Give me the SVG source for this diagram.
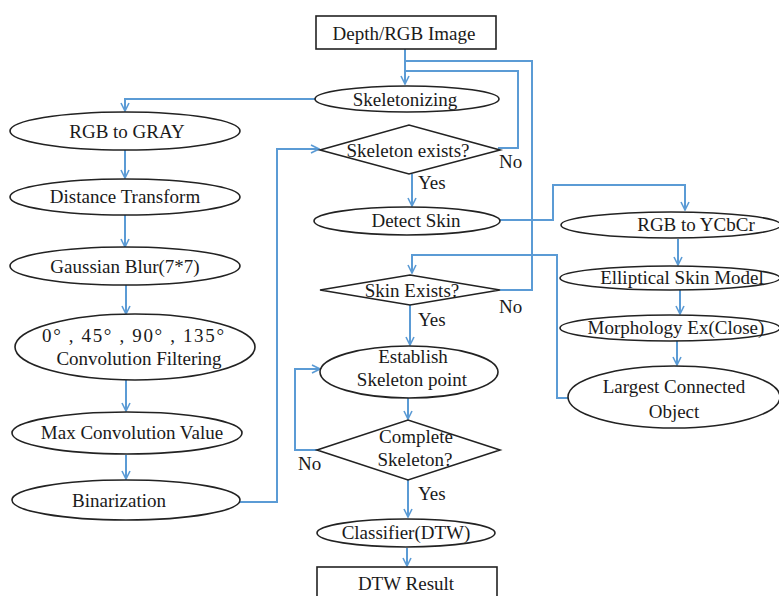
<svg xmlns="http://www.w3.org/2000/svg" width="779" height="596" viewBox="0 0 779 596">
<defs>
<style>
.n{fill:#fff;stroke:#222;stroke-width:1.6}
text{font-family:'Liberation Serif','DejaVu Serif',serif;font-size:19px;fill:#1a1a1a}
.t{text-anchor:middle}
.c{fill:none;stroke:#5b9bd5;stroke-width:2}
</style>
<marker id="a" viewBox="0 0 10 10" refX="9" refY="5" markerWidth="10" markerHeight="10" markerUnits="userSpaceOnUse" orient="auto">
<path d="M1,1 L9,5 L1,9" fill="none" stroke="#5b9bd5" stroke-width="1.6"/>
</marker>
</defs>
<rect width="779" height="596" fill="#fff"/>

<g id="connectors">
<path class="c" d="M405,49 V84" marker-end="url(#a)"/>
<path class="c" d="M405,61 H532 V290 H500"/>
<path class="c" d="M405,71 H518 V148 H498"/>
<path class="c" d="M315,99 H125 V111" marker-end="url(#a)"/>
<path class="c" d="M125,150 V178" marker-end="url(#a)"/>
<path class="c" d="M125,215 V247" marker-end="url(#a)"/>
<path class="c" d="M126,285 V314" marker-end="url(#a)"/>
<path class="c" d="M126,380 V411" marker-end="url(#a)"/>
<path class="c" d="M126,455 V479" marker-end="url(#a)"/>
<path class="c" d="M240,502 H277 V149 H319" marker-end="url(#a)"/>
<path class="c" d="M412,174 V206" marker-end="url(#a)"/>
<path class="c" d="M500,220 H553 V185 H685 V210" marker-end="url(#a)"/>
<path class="c" d="M678,239 V265" marker-end="url(#a)"/>
<path class="c" d="M680,290 V314" marker-end="url(#a)"/>
<path class="c" d="M677,340 V365" marker-end="url(#a)"/>
<path class="c" d="M569,398 H557 V255 H412 V273" marker-end="url(#a)"/>
<path class="c" d="M410,305 V345" marker-end="url(#a)"/>
<path class="c" d="M408,398 V419" marker-end="url(#a)"/>
<path class="c" d="M317,450 H295 V369 H320" marker-end="url(#a)"/>
<path class="c" d="M408,480 V517" marker-end="url(#a)"/>
<path class="c" d="M407,548 V566" marker-end="url(#a)"/>
</g>

<g id="depth-rgb-image">
<rect class="n" x="316" y="16" width="180" height="33"/>
<text class="t" x="404" y="40">Depth/RGB Image</text>
</g>
<g id="skeletonizing">
<ellipse class="n" cx="407" cy="99" rx="92" ry="13"/>
<text class="t" x="405" y="106">Skeletonizing</text>
</g>
<g id="rgb-to-gray">
<ellipse class="n" cx="125" cy="131" rx="115" ry="19"/>
<text class="t" x="127" y="138">RGB to GRAY</text>
</g>
<g id="distance-transform">
<ellipse class="n" cx="125" cy="197" rx="115" ry="18"/>
<text class="t" x="125" y="203">Distance Transform</text>
</g>
<g id="gaussian-blur">
<ellipse class="n" cx="125" cy="266" rx="115" ry="19"/>
<text class="t" x="125" y="273">Gaussian Blur(7*7)</text>
</g>
<g id="convolution-filtering">
<ellipse class="n" cx="135" cy="347" rx="120" ry="33"/>
<text x="42" y="342" textLength="182" lengthAdjust="spacing">0°  , 45°  , 90°  , 135°</text>
<text class="t" x="139" y="365">Convolution Filtering</text>
</g>
<g id="max-convolution-value">
<ellipse class="n" cx="127" cy="433" rx="115" ry="21"/>
<text class="t" x="132" y="439">Max Convolution Value</text>
</g>
<g id="binarization">
<ellipse class="n" cx="126" cy="500" rx="114" ry="20"/>
<text class="t" x="119" y="507">Binarization</text>
</g>
<g id="skeleton-exists">
<polygon class="n" points="320,150 409,125 500,150 409,174"/>
<text class="t" x="408" y="157">Skeleton exists?</text>
</g>
<g id="detect-skin">
<ellipse class="n" cx="407" cy="221" rx="93" ry="14"/>
<text class="t" x="416" y="227">Detect Skin</text>
</g>
<g id="rgb-to-ycbcr">
<ellipse class="n" cx="671" cy="225" rx="110" ry="13"/>
<text class="t" x="696" y="231">RGB to YCbCr</text>
</g>
<g id="elliptical-skin-model">
<ellipse class="n" cx="670" cy="278" rx="110" ry="12"/>
<text class="t" x="682" y="284">Elliptical Skin Model</text>
</g>
<g id="morphology-close">
<ellipse class="n" cx="670" cy="328" rx="110" ry="13"/>
<text class="t" x="676" y="334">Morphology Ex(Close)</text>
</g>
<g id="largest-connected-object">
<ellipse class="n" cx="674" cy="397" rx="106" ry="31"/>
<text class="t" x="674" y="393">Largest Connected</text>
<text class="t" x="674" y="418">Object</text>
</g>
<g id="skin-exists">
<polygon class="n" points="320,290 410,275 500,290 410,305"/>
<text class="t" x="412" y="297">Skin Exists?</text>
</g>
<g id="establish-skeleton-point">
<ellipse class="n" cx="409" cy="372" rx="89" ry="26"/>
<text class="t" x="413" y="363">Establish</text>
<text class="t" x="412" y="386">Skeleton point</text>
</g>
<g id="complete-skeleton">
<polygon class="n" points="317,450 408,420 500,450 408,480"/>
<text class="t" x="416" y="443">Complete</text>
<text class="t" x="415" y="466">Skeleton?</text>
</g>
<g id="classifier-dtw">
<ellipse class="n" cx="406" cy="533" rx="89" ry="14"/>
<text class="t" x="406" y="539">Classifier(DTW)</text>
</g>
<g id="dtw-result">
<rect class="n" x="317" y="567" width="180" height="40"/>
<text class="t" x="406" y="590">DTW Result</text>
</g>

<g id="labels">
<text x="499" y="168">No</text>
<text x="418" y="189">Yes</text>
<text x="499" y="313">No</text>
<text x="418" y="326">Yes</text>
<text x="298" y="470">No</text>
<text x="418" y="500">Yes</text>
</g>
</svg>
